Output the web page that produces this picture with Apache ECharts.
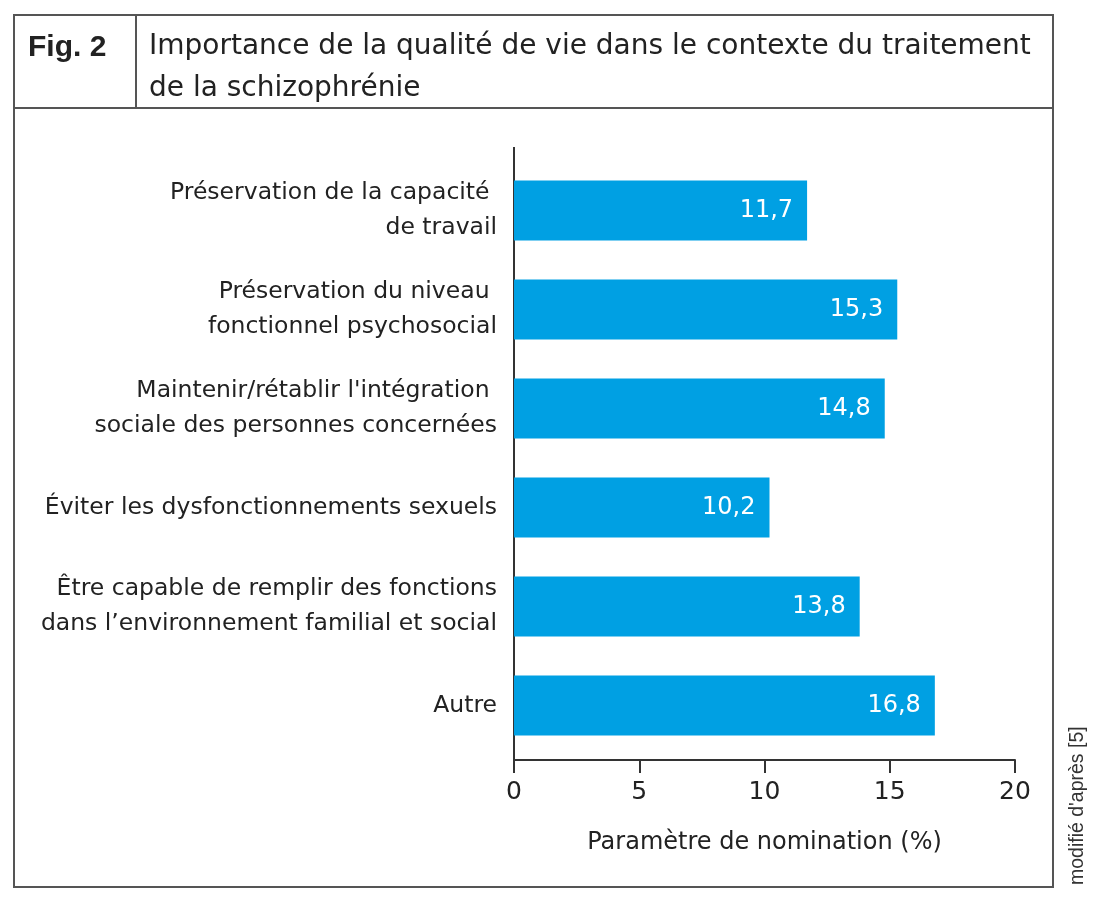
<!DOCTYPE html>
<html>
<head>
<meta charset="utf-8">
<script src="https://cdn.jsdelivr.net/npm/echarts@6/dist/echarts.min.js"></script>
<style>
html,body{margin:0;padding:0;background:#fff;}
#chart{width:1100px;height:903px;}
</style>
</head>
<body>
<div id="chart"></div>
<script>
var categories = [
  "Préservation de la capacité \nde travail",
  "Préservation du niveau \nfonctionnel psychosocial",
  "Maintenir/rétablir l'intégration \nsociale des personnes concernées",
  "Éviter les dysfonctionnements sexuels",
  "Être capable de remplir des fonctions\ndans l’environnement familial et social",
  "Autre"
];
var values = [11.7, 15.3, 14.8, 10.2, 13.8, 16.8];
var xTicks = [0, 5, 10, 15, 20];
var titleLines = ["Importance de la qualité de vie dans le contexte du traitement", "de la schizophrénie"];
var figLabel = "Fig. 2";
var sourceNote = "modifié d'après [5]";
var axisTitle = "Paramètre de nomination (%)";

var FONT = "DejaVu Sans";
var TXT = "#222";
var LINE = "#555";

var chart = echarts.init(document.getElementById('chart'));
chart.setOption({
  animation: false,
  backgroundColor: '#fff',
  textStyle: {fontFamily: FONT},
  grid: {left: 514, right: 85, top: 161, bottom: 148, containLabel: false},
  xAxis: {
    type: 'value', min: xTicks[0], max: xTicks[xTicks.length-1], interval: 5,
    offset: 5,
    axisLine: {show: true, lineStyle: {color: '#333', width: 2}},
    axisTick: {show: true, length: 13, lineStyle: {color: '#333', width: 2}},
    splitLine: {show: false},
    axisLabel: {color: TXT, fontSize: 25, margin: 20, fontFamily: FONT},
    name: axisTitle,
    nameLocation: 'middle', nameGap: 71,
    nameTextStyle: {color: TXT, fontSize: 24, fontFamily: FONT}
  },
  yAxis: {
    type: 'category', data: categories, inverse: true,
    axisLine: {show: false},
    axisTick: {show: false},
    axisLabel: {color: TXT, fontSize: 23.5, lineHeight: 35, margin: 17, align: 'right', fontFamily: FONT}
  },
  series: [{
    type: 'bar', data: values, barWidth: 60,
    itemStyle: {color: '#00A0E3'},
    label: {
      show: true, position: 'insideRight', distance: 14,
      color: '#fff', fontSize: 24, fontFamily: FONT,
      formatter: function(p){ return String(p.value).replace('.', ','); }
    }
  }],
  graphic: [
    {type: 'rect', shape: {x: 14, y: 15, width: 1039, height: 872}, style: {fill: 'none', stroke: LINE, lineWidth: 2}},
    {type: 'line', shape: {x1: 14, y1: 108, x2: 1053, y2: 108}, style: {stroke: LINE, lineWidth: 2}},
    {type: 'line', shape: {x1: 136, y1: 15, x2: 136, y2: 108}, style: {stroke: LINE, lineWidth: 2}},
    {type: 'line', shape: {x1: 514, y1: 147, x2: 514, y2: 761}, style: {stroke: '#333', lineWidth: 2}},
    {type: 'text', left: 28, top: 26, style: {text: figLabel, font: 'bold 30px "Liberation Sans"', lineHeight: 43, fill: TXT}},
    {type: 'text', left: 149, top: 26, style: {text: titleLines.join('\n'), font: '28px "DejaVu Sans"', lineHeight: 42, fill: TXT}},
    {type: 'text', x: 1078, y: 885, rotation: Math.PI/2, style: {text: sourceNote, font: '19.5px "Liberation Sans"', fill: '#333', textAlign: 'left', textVerticalAlign: 'middle'}}
  ]
});
</script>
</body>
</html>
